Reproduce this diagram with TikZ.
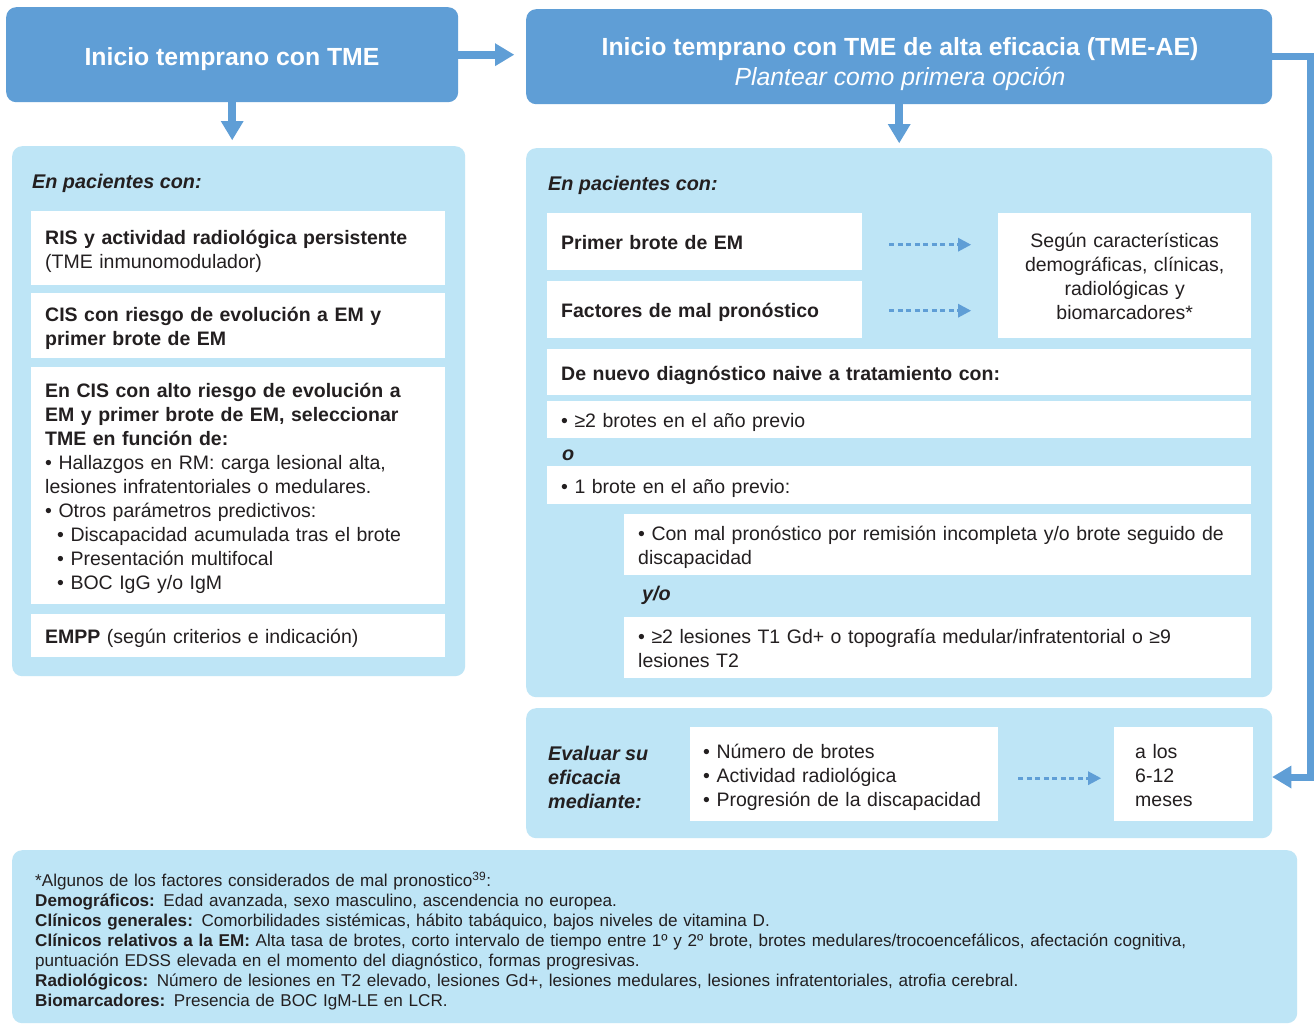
\documentclass[tikz,border=0pt]{standalone}
\usepackage{fontspec}
\setmainfont{Liberation Sans}
\usetikzlibrary{arrows.meta,calc}
\definecolor{dblue}{HTML}{5F9ED6}
\definecolor{lblue}{HTML}{BEE5F6}
\definecolor{txt}{HTML}{231F20}
\newcommand\bodyfs{\fontsize{19.5}{24}\selectfont}
\newcommand\lblfs{\fontsize{19.8}{24}\selectfont}
\newcommand\titlefs{\fontsize{24.8}{30}\selectfont}
\newcommand\notefs{\fontsize{17.1}{20}\selectfont}
\newcommand\fs{\rule{0pt}{21pt}}
\newcommand\ls{\rule[-4.5pt]{0pt}{0pt}}
\begin{document}
\begin{tikzpicture}[x=1pt,y=-1pt,
  panel/.style={fill=lblue, rounded corners=10pt, anchor=north west, inner sep=0pt},
  titlebox/.style={fill=dblue, rounded corners=10pt, anchor=north west, inner sep=0pt},
  titletext/.style={text=white, font=\titlefs, align=center, inner sep=0pt},
  wbox/.style={fill=white, anchor=north west, inner xsep=14pt, inner ysep=0pt, align=left, text=txt, font=\bodyfs},
  lbl/.style={anchor=west, inner sep=0pt, text=txt, font=\lblfs\bfseries\itshape, align=left},
  bigarrow/.style={draw=dblue, line width=8pt, -{Triangle[length=19pt,width=23pt,line width=0pt]}},
  fbarrow/.style={draw=dblue, line width=7pt, -{Triangle[length=19pt,width=23pt,line width=0pt]}},
  dasharrow/.style={draw=dblue, line width=2.6pt, dash pattern=on 5pt off 3.5pt, -{Triangle[length=13pt,width=14pt,line width=0pt]}}
]
\useasboundingbox (0,0) rectangle (1315,1025);
\fill[white] (0,0) rectangle (1315,1025);

% title boxes
\node[titlebox, minimum width=452pt, minimum height=95pt] (lbox) at (6,7) {};
\node[titletext, font=\titlefs\bfseries] (ltitle) at (232,59) {Inicio temprano con TME};
\node[titlebox, minimum width=746pt, minimum height=95pt] (rbox) at (526,9) {};
\node[titletext] (rtitle) at (900,64.5) {\textbf{Inicio temprano con TME de alta eficacia (TME-AE)}\\\textit{Plantear como primera opción}};

% panels
\node[panel, minimum width=453pt, minimum height=530pt] (lp) at (12,146) {};
\node[panel, minimum width=746pt, minimum height=549pt] (rp) at (526,148) {};
\node[panel, minimum width=746pt, minimum height=130pt] (ep) at (526,708) {};
\node[panel, minimum width=1285pt, minimum height=173pt] (np) at (12,850) {};

% arrows between title boxes and panels
\draw[bigarrow, shorten >=12pt] (lbox.east) -- (rbox.west |- lbox.east);
\draw[bigarrow, shorten >=6pt] (lbox.south) -- (lbox.south |- lp.north);
\draw[bigarrow, shorten >=5pt] (rbox.south) -- (rbox.south |- rp.north);
\coordinate (fbc) at (1310,777);
\draw[fbarrow] (rbox.east) -| (fbc) -- (fbc -| ep.east);

% left panel
\node[lbl] (lhead) at (32,183) {En pacientes con:};
\node[wbox, text width=386pt, minimum height=74pt] (lb1) at (31,211)
  {\fs\textbf{RIS y actividad radiológica persistente}\\(TME inmunomodulador)\ls};
\node[wbox, text width=386pt, minimum height=65pt] (lb2) at (31,293)
  {\fs\textbf{CIS con riesgo de evolución a EM y}\\\textbf{primer brote de EM}\ls};
\node[wbox, text width=386pt, minimum height=237pt] (lb3) at (31,367)
  {\fs\textbf{En CIS con alto riesgo de evolución a}\\
   \textbf{EM y primer brote de EM, seleccionar}\\
   \textbf{TME en función de:}\\
   • Hallazgos en RM: carga lesional alta,\\
   lesiones infratentoriales o medulares.\\
   • Otros parámetros predictivos:\\
   \hspace*{12pt}• Discapacidad acumulada tras el brote\\
   \hspace*{12pt}• Presentación multifocal\\
   \hspace*{12pt}• BOC IgG y/o IgM\ls};
\node[wbox, text width=386pt, minimum height=43pt] (lb4) at (31,614)
  {\fs\textbf{EMPP} (según criterios e indicación)\ls};

% right panel
\node[lbl] (rhead) at (548,185) {En pacientes con:};
\node[wbox, text width=287pt, minimum height=57pt] (rb1) at (547,213) {\fs\textbf{Primer brote de EM}\ls};
\node[wbox, text width=287pt, minimum height=57pt] (rb2) at (547,281) {\fs\textbf{Factores de mal pronóstico}\ls};
\node[wbox, text width=237pt, inner xsep=8pt, minimum height=125pt, align=center] (seg) at (998,213)
  {\fs Según características\\demográficas, clínicas,\\radiológicas y\\biomarcadores*\ls};
\draw[dasharrow, shorten <=27pt, shorten >=27pt] ([yshift=-3pt]rb1.east) -- ([yshift=-3pt]rb1.east -| seg.west);
\draw[dasharrow, shorten <=27pt, shorten >=27pt] ([yshift=-1pt]rb2.east) -- ([yshift=-1pt]rb2.east -| seg.west);
\node[wbox, text width=676pt, minimum height=46pt] (rb3) at (547,349) {\fs\textbf{De nuevo diagnóstico naive a tratamiento con:}\ls};
\node[wbox, text width=676pt, minimum height=37pt] (rb4) at (547,401) {\fs• ≥2 brotes en el año previo\ls};
\node[lbl] (oo) at (562,455) {o};
\node[wbox, text width=676pt, minimum height=38pt] (rb5) at (547,466) {\fs• 1 brote en el año previo:\ls};
\node[wbox, text width=599pt, minimum height=61pt] (rb6) at (624,514)
  {\fs• Con mal pronóstico por remisión incompleta y/o brote seguido de\\discapacidad\ls};
\node[lbl] (yo) at (642,595) {y/o};
\node[wbox, text width=599pt, minimum height=61pt] (rb7) at (624,617)
  {\fs• ≥2 lesiones T1 Gd+ o topografía medular/infratentorial o ≥9\\lesiones T2\ls};

% evaluation panel
\node[lbl] (evl) at (548,777) {Evaluar su\\eficacia\\mediante:};
\node[wbox, text width=282pt, inner xsep=13pt, minimum height=94pt] (ev1) at (690,727)
  {\fs\mbox{• Número de brotes}\\\mbox{• Actividad radiológica}\\\mbox{• Progresión de la discapacidad}\ls};
\node[wbox, text width=97pt, inner xsep=21pt, minimum height=94pt] (ev2) at (1114,727)
  {\fs a los\\6-12\\meses\ls};
\draw[dasharrow, shorten <=20pt, shorten >=13pt] ([yshift=-4pt]ev1.east) -- ([yshift=-4pt]ev1.east -| ev2.west);

% footnote
\node[anchor=north west, inner sep=0pt, align=left, text=txt, font=\notefs, text width=1250pt] (note) at (35,872)
  {*Algunos de los factores considerados de mal pronostico\textsuperscript{39}:\\
   \textbf{Demográficos:} Edad avanzada, sexo masculino, ascendencia no europea.\\
   \textbf{Clínicos generales:} Comorbilidades sistémicas, hábito tabáquico, bajos niveles de vitamina D.\\
   \textbf{Clínicos relativos a la EM:} Alta tasa de brotes, corto intervalo de tiempo entre 1º y 2º brote, brotes medulares/trocoencefálicos, afectación cognitiva,\\
   puntuación EDSS elevada en el momento del diagnóstico, formas progresivas.\\
   \textbf{Radiológicos:} Número de lesiones en T2 elevado, lesiones Gd+, lesiones medulares, lesiones infratentoriales, atrofia cerebral.\\
   \textbf{Biomarcadores:} Presencia de BOC IgM-LE en LCR.};
\end{tikzpicture}
\end{document}
